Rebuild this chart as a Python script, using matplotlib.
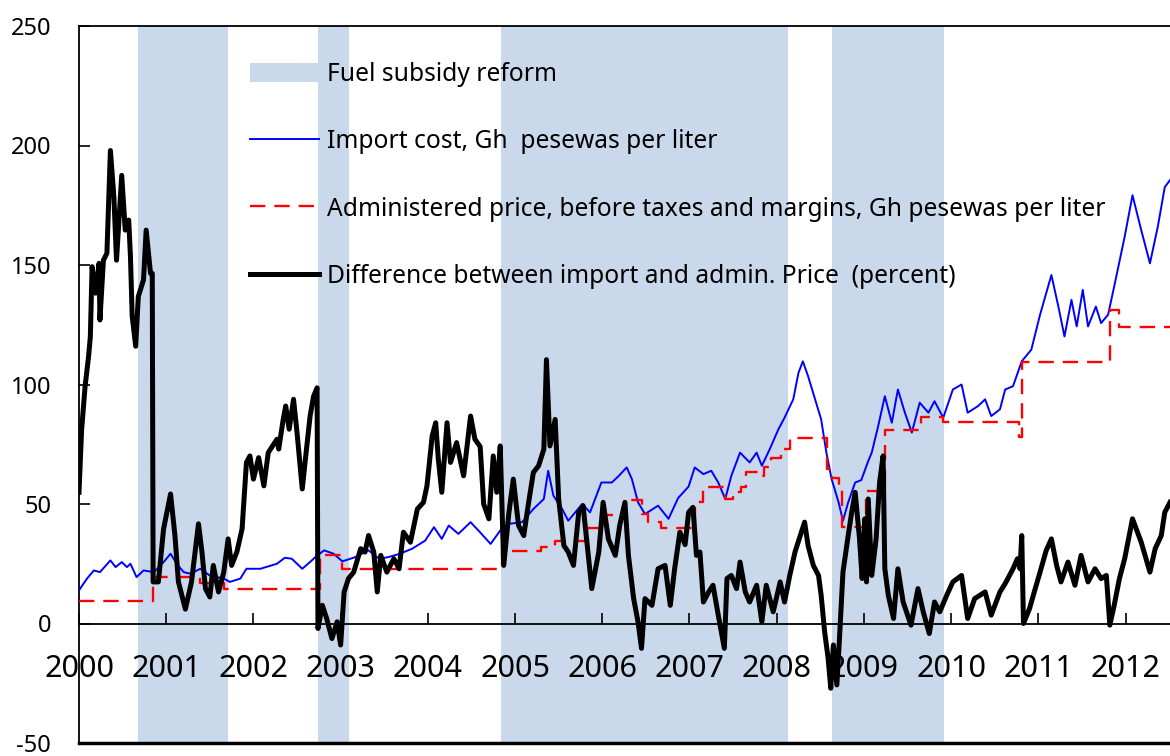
import matplotlib
matplotlib.use('Agg')
import matplotlib.pyplot as plt
from matplotlib.patches import Patch
from matplotlib.lines import Line2D

# ---------------- data ----------------
years = list(range(2000, 2013))
year_labels = [str(y) for y in years]
y_ticks = [-50, 0, 50, 100, 150, 200, 250]

reform_start = [2000.68, 2002.74, 2004.84, 2008.64]
reform_end = [2001.71, 2003.10, 2008.13, 2009.92]

import_t = [2000.00, 2000.09, 2000.17, 2000.24, 2000.36, 2000.42, 2000.49, 2000.55, 2000.59, 2000.66,
            2000.74, 2000.86, 2000.97, 2001.05, 2001.12, 2001.20, 2001.28, 2001.39, 2001.50, 2001.66,
            2001.73, 2001.85, 2001.92, 2002.08, 2002.27, 2002.36, 2002.44, 2002.56, 2002.67, 2002.71,
            2002.81, 2002.92, 2003.02, 2003.17, 2003.32, 2003.44, 2003.55, 2003.68, 2003.82, 2003.97,
            2004.07, 2004.16, 2004.24, 2004.35, 2004.49, 2004.58, 2004.72, 2004.83, 2004.93, 2005.08,
            2005.21, 2005.33, 2005.38, 2005.44, 2005.54, 2005.61, 2005.77, 2005.86, 2005.99, 2006.11,
            2006.19, 2006.28, 2006.34, 2006.41, 2006.49, 2006.64, 2006.76, 2006.87, 2006.99, 2007.06,
            2007.16, 2007.25, 2007.33, 2007.41, 2007.48, 2007.58, 2007.69, 2007.77, 2007.83, 2007.92,
            2008.02, 2008.09, 2008.19, 2008.25, 2008.30, 2008.36, 2008.44, 2008.51, 2008.57, 2008.63,
            2008.71, 2008.76, 2008.82, 2008.90, 2008.97, 2009.05, 2009.09, 2009.16, 2009.24, 2009.32,
            2009.39, 2009.47, 2009.55, 2009.64, 2009.74, 2009.81, 2009.91, 2010.02, 2010.12, 2010.19,
            2010.31, 2010.39, 2010.46, 2010.56, 2010.62, 2010.71, 2010.81, 2010.92, 2011.02, 2011.15,
            2011.23, 2011.30, 2011.38, 2011.44, 2011.51, 2011.57, 2011.66, 2011.72, 2011.80, 2011.87,
            2011.99, 2012.08, 2012.18, 2012.28, 2012.37, 2012.45, 2012.51]
import_cost = [13.9, 18.7, 22.2, 21.5, 26.4, 23.6, 25.7, 23.6, 25.0, 19.4,
               22.2, 21.5, 25.7, 29.2, 25.0, 21.5, 20.8, 22.9, 20.1, 18.8,
               17.4, 18.8, 22.9, 22.9, 25.0, 27.5, 27.1, 22.9, 26.4, 27.8,
               30.6, 29.2, 26.0, 27.8, 30.6, 27.1, 27.8, 29.2, 31.3, 34.7,
               40.3, 35.4, 41.0, 37.5, 42.4, 38.9, 33.3, 38.9, 41.7, 42.4,
               47.9, 52.1, 63.9, 53.5, 47.9, 43.0, 50.0, 46.5, 59.0, 59.0,
               61.8, 65.3, 60.4, 50.7, 45.8, 49.3, 43.8, 52.5, 57.3, 65.3,
               62.5, 63.9, 59.0, 52.1, 61.8, 71.5, 67.4, 71.5, 66.0, 72.9,
               81.3, 86.1, 93.8, 104.9, 109.7, 103.5, 93.8, 85.4, 71.5, 60.4,
               50.7, 43.0, 50.7, 59.0, 60.0, 68.0, 71.5, 82.0, 95.1, 84.0,
               97.9, 88.2, 79.9, 92.4, 88.2, 93.0, 86.1, 97.9, 100.0, 88.2,
               91.0, 93.8, 86.8, 89.6, 97.9, 99.3, 109.7, 114.6, 129.2, 145.8,
               132.6, 120.1, 135.4, 124.3, 139.6, 124.3, 132.6, 125.7, 129.2, 141.0,
               161.8, 179.2, 164.6, 150.7, 166.0, 182.6, 185.5]

admin_t = [2000.00, 2000.85, 2001.39, 2001.66, 2002.76, 2003.01, 2004.85, 2005.30, 2005.46, 2005.84,
           2006.04, 2006.26, 2006.45, 2006.53, 2006.67, 2007.06, 2007.16, 2007.41, 2007.50, 2007.59,
           2007.65, 2007.79, 2007.85, 2007.93, 2008.05, 2008.15, 2008.58, 2008.63, 2008.71, 2008.75,
           2009.02, 2009.24, 2009.65, 2009.91, 2010.78, 2010.81, 2011.82, 2011.92, 2012.51]
admin_price = [9.3, 19.4, 17.0, 14.6, 28.7, 23.0, 30.4, 32.0, 34.4, 40.1,
               45.4, 51.8, 45.8, 42.5, 40.0, 51.0, 57.0, 52.0, 55.0, 57.0,
               63.2, 61.8, 65.3, 69.4, 72.9, 77.8, 64.6, 61.0, 57.0, 40.4,
               55.4, 81.0, 86.2, 84.2, 78.0, 109.6, 131.0, 124.0, 124.0]

diff_t = [2000.00, 2000.03, 2000.07, 2000.11, 2000.13, 2000.15, 2000.19, 2000.23, 2000.24, 2000.28,
          2000.32, 2000.36, 2000.40, 2000.43, 2000.49, 2000.53, 2000.57, 2000.59, 2000.61, 2000.65,
          2000.68, 2000.74, 2000.77, 2000.82, 2000.84, 2000.85, 2000.91, 2000.97, 2001.05, 2001.10,
          2001.14, 2001.22, 2001.29, 2001.37, 2001.41, 2001.45, 2001.50, 2001.54, 2001.60, 2001.66,
          2001.71, 2001.75, 2001.81, 2001.87, 2001.92, 2001.96, 2002.00, 2002.06, 2002.12, 2002.17,
          2002.27, 2002.29, 2002.34, 2002.37, 2002.41, 2002.46, 2002.50, 2002.56, 2002.60, 2002.65,
          2002.69, 2002.73, 2002.74, 2002.79, 2002.84, 2002.90, 2002.96, 2003.00, 2003.04, 2003.09,
          2003.15, 2003.23, 2003.28, 2003.32, 2003.38, 2003.42, 2003.46, 2003.53, 2003.61, 2003.67,
          2003.72, 2003.80, 2003.88, 2003.95, 2003.99, 2004.05, 2004.09, 2004.12, 2004.16, 2004.22,
          2004.26, 2004.33, 2004.41, 2004.49, 2004.54, 2004.60, 2004.64, 2004.70, 2004.75, 2004.79,
          2004.83, 2004.87, 2004.93, 2004.98, 2005.04, 2005.10, 2005.15, 2005.21, 2005.27, 2005.33,
          2005.36, 2005.40, 2005.46, 2005.50, 2005.56, 2005.61, 2005.67, 2005.73, 2005.78, 2005.84,
          2005.88, 2005.96, 2006.01, 2006.07, 2006.15, 2006.20, 2006.26, 2006.30, 2006.36, 2006.41,
          2006.45, 2006.49, 2006.57, 2006.64, 2006.72, 2006.78, 2006.83, 2006.89, 2006.95, 2006.99,
          2007.04, 2007.08, 2007.12, 2007.16, 2007.22, 2007.27, 2007.33, 2007.40, 2007.43, 2007.48,
          2007.54, 2007.58, 2007.64, 2007.69, 2007.77, 2007.83, 2007.88, 2007.96, 2008.04, 2008.09,
          2008.15, 2008.21, 2008.27, 2008.32, 2008.36, 2008.42, 2008.48, 2008.51, 2008.55, 2008.59,
          2008.62, 2008.65, 2008.69, 2008.72, 2008.76, 2008.82, 2008.86, 2008.90, 2008.95, 2008.98,
          2009.01, 2009.03, 2009.05, 2009.09, 2009.14, 2009.18, 2009.22, 2009.24, 2009.28, 2009.34,
          2009.39, 2009.45, 2009.54, 2009.62, 2009.68, 2009.75, 2009.81, 2009.87, 2009.95, 2010.02,
          2010.12, 2010.19, 2010.27, 2010.39, 2010.46, 2010.56, 2010.62, 2010.71, 2010.76, 2010.79,
          2010.81, 2010.83, 2010.90, 2010.96, 2011.02, 2011.09, 2011.15, 2011.21, 2011.26, 2011.34,
          2011.42, 2011.49, 2011.57, 2011.65, 2011.72, 2011.78, 2011.82, 2011.87, 2011.93, 2011.99,
          2012.08, 2012.18, 2012.28, 2012.34, 2012.41, 2012.45, 2012.51]
difference = [54.9, 81.0, 99.3, 111.8, 120.0, 149.3, 138.2, 150.7, 127.0, 152.0,
              154.9, 197.9, 178.5, 152.0, 187.5, 164.6, 168.8, 153.5, 128.5, 116.0,
              136.8, 143.8, 164.6, 146.5, 146.5, 17.4, 17.4, 39.6, 54.2, 36.8,
              17.4, 6.0, 17.4, 41.7, 29.9, 14.6, 11.1, 24.3, 13.2, 21.5,
              35.4, 24.3, 29.9, 39.6, 67.4, 70.1, 60.4, 69.4, 57.6, 71.5,
              77.1, 73.0, 85.0, 91.0, 81.3, 93.8, 79.9, 56.3, 70.1, 86.8,
              95.1, 98.6, -2.1, 7.6, 2.1, -6.3, 0.7, -9.0, 13.2, 18.8,
              21.5, 31.3, 29.9, 36.8, 29.9, 13.2, 28.5, 21.5, 27.1, 22.9,
              38.2, 34.0, 47.9, 50.7, 57.6, 78.5, 84.0, 68.8, 54.9, 84.0,
              67.4, 75.7, 61.8, 86.8, 77.1, 74.0, 50.0, 43.8, 70.1, 54.9,
              74.3, 24.3, 46.5, 60.4, 41.0, 36.8, 49.3, 63.2, 66.0, 72.9,
              110.4, 74.3, 85.4, 52.1, 32.6, 29.9, 24.3, 46.5, 49.3, 28.5,
              14.6, 29.9, 50.7, 35.4, 28.5, 41.0, 50.7, 28.5, 10.4, 0.7,
              -10.4, 10.4, 7.6, 22.9, 24.3, 7.6, 22.9, 38.2, 33.0, 46.5,
              48.6, 28.5, 29.9, 9.0, 13.2, 16.0, 3.5, -10.4, 18.8, 20.1,
              14.6, 25.7, 13.2, 9.0, 16.0, 0.7, 16.0, 4.9, 17.4, 9.0,
              20.1, 29.9, 36.8, 42.4, 32.6, 24.3, 20.1, 11.8, -3.5, -14.6,
              -27.1, -9.0, -25.7, -6.3, 21.5, 36.8, 46.5, 54.9, 35.4, 18.8,
              43.8, 17.4, 52.1, 20.1, 35.4, 59.0, 70.1, 22.9, 11.8, 2.1,
              22.9, 9.0, -0.7, 14.6, 4.9, -4.2, 9.0, 4.9, 11.8, 17.4,
              20.1, 2.1, 10.4, 13.2, 3.5, 13.2, 16.7, 22.9, 27.1, 22.9,
              36.8, 0.0, 6.3, 14.0, 21.5, 30.5, 35.4, 24.3, 17.4, 25.7,
              16.0, 28.5, 17.4, 22.9, 18.8, 20.1, -0.7, 7.6, 18.8, 27.1,
              43.8, 34.0, 21.5, 31.3, 36.8, 46.5, 50.7]

labels = ["Fuel subsidy reform",
          "Import cost, Gh  pesewas per liter",
          "Administered price, before taxes and margins, Gh pesewas per liter",
          "Difference between import and admin. Price  (percent)"]

# ---------------- styling ----------------
plt.rcParams['font.family'] = ['Noto Sans', 'DejaVu Sans']
shade_col = '#C9D9EB'
red_dash = (6.5, 3.8)

W, H = 1170, 756
TOP, BOT = 26, 743
fig = plt.figure(figsize=(W / 100, H / 100), dpi=100)
ax = fig.add_axes([79 / W, (H - BOT) / H, 1 - 79 / W, (BOT - TOP) / H])
ax.set_xlim(2000, 2012.51)
ax.set_ylim(-50, 250)

for s, e in zip(reform_start, reform_end):
    ax.axvspan(s, e, color=shade_col, lw=0, zorder=0)

ax.plot(import_t, import_cost, color='#0000FF', lw=1.4, zorder=3)
ax.step(admin_t, admin_price, where='post', color='#FF0000', lw=1.7,
        dashes=red_dash, zorder=3)
ax.plot(diff_t, difference, color='black', lw=3.6, zorder=4,
        solid_joinstyle='round')

ax.spines['right'].set_visible(False)
ax.spines['bottom'].set_position(('data', 0))
for sp in ['left', 'top', 'bottom']:
    ax.spines[sp].set_linewidth(1.3)
ax.axhline(-50, color='black', lw=2.5, clip_on=False, zorder=5)

ax.set_xticks(years)
ax.set_xticklabels(year_labels)
ax.set_yticks(y_ticks)
ax.set_yticklabels([str(v) for v in y_ticks])
ax.tick_params(axis='x', direction='in', length=8, width=1.2, labelsize=22, pad=22)
ax.tick_params(axis='y', direction='in', length=8, width=1.2, labelsize=17, pad=20)

handles = [Patch(facecolor=shade_col, edgecolor='none'),
           Line2D([], [], color='#0000FF', lw=1.4),
           Line2D([], [], color='#FF0000', lw=1.7, dashes=red_dash),
           Line2D([], [], color='black', lw=3.6)]
ax.legend(handles, labels, loc='upper left', bbox_to_anchor=(250 / W, 1 - 62 / H),
          bbox_transform=fig.transFigure, frameon=False, fontsize=17.7,
          handlelength=2.8, handleheight=0.86, handletextpad=0.33,
          labelspacing=1.72, borderpad=0, borderaxespad=0)

fig.savefig('out.png', dpi=100)
